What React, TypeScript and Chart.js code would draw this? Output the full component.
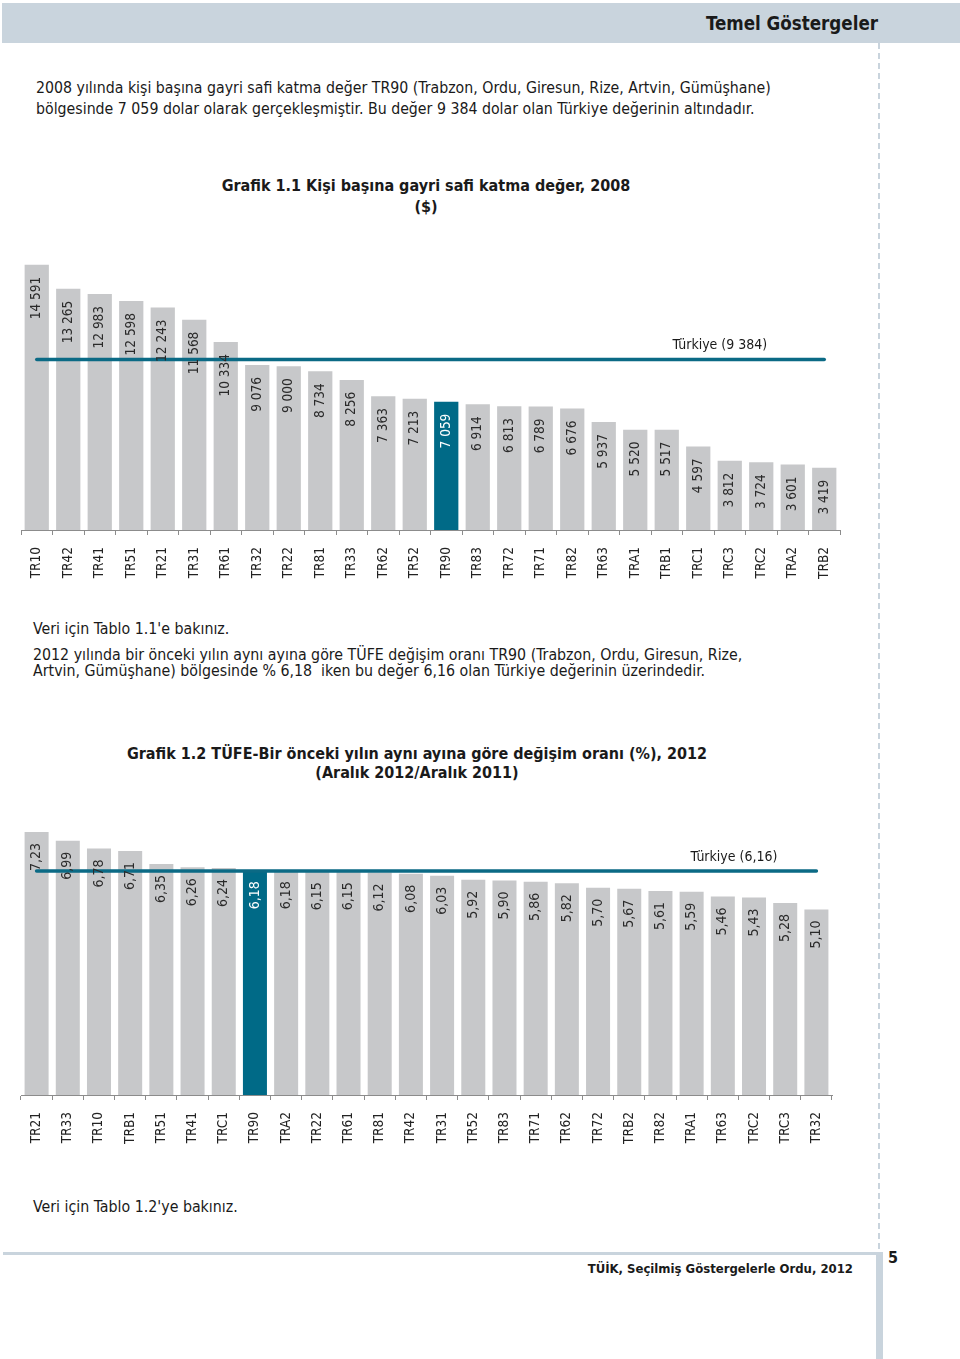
import React, { useEffect, useRef } from "react";
import { Chart, registerables } from "chart.js";
Chart.register(...registerables);

// ---------- DATA ----------
const regions1 = ["TR10","TR42","TR41","TR51","TR21","TR31","TR61","TR32","TR22","TR81","TR33","TR62","TR52","TR90","TR83","TR72","TR71","TR82","TR63","TRA1","TRB1","TRC1","TRC3","TRC2","TRA2","TRB2"];
const values1 = [14591,13265,12983,12598,12243,11568,10334,9076,9000,8734,8256,7363,7213,7059,6914,6813,6789,6676,5937,5520,5517,4597,3812,3724,3601,3419];
const turkiye1 = 9384;
const turkiyeLabel1 = "Türkiye (9 384)";

const regions2 = ["TR21","TR33","TR10","TRB1","TR51","TR41","TRC1","TR90","TRA2","TR22","TR61","TR81","TR42","TR31","TR52","TR83","TR71","TR62","TR72","TRB2","TR82","TRA1","TR63","TRC2","TRC3","TR32"];
const values2 = [7.23,6.99,6.78,6.71,6.35,6.26,6.24,6.18,6.18,6.15,6.15,6.12,6.08,6.03,5.92,5.90,5.86,5.82,5.70,5.67,5.61,5.59,5.46,5.43,5.28,5.10];
const turkiye2 = 6.16;
const turkiyeLabel2 = "Türkiye (6,16)";

const highlight = "TR90";

// ---------- STYLE ----------
const GRAY = "#c7c8ca";
const TEAL = "#006a87";
const LINE = "#0b6a85";
const AXIS = "#8c8c8c";
const FONT = "'DejaVu Sans Condensed', 'DejaVu Sans', sans-serif";
const PALE = "#c9d4dd";

const fmtThousands = (n: number) => String(n).replace(/\B(?=(\d{3})+(?!\d))/g, " ");
const fmtComma = (n: number) => n.toFixed(2).replace(".", ",");

const refLinePlugin = {
  id: "refLine",
  afterDatasetsDraw(chart: any, _args: any, opts: any) {
    const meta = chart.getDatasetMeta(0);
    const n = meta.data.length;
    const y = chart.scales.y.getPixelForValue(opts.value);
    const x0 = meta.data[0].x;
    const x1 = meta.data[n - 1].x;
    const ctx = chart.ctx;
    ctx.save();
    ctx.strokeStyle = LINE;
    ctx.lineWidth = 3.5;
    ctx.lineCap = "round";
    ctx.beginPath();
    ctx.moveTo(x0, y);
    ctx.lineTo(x1, y);
    ctx.stroke();
    ctx.fillStyle = "#1a1a1a";
    ctx.font = `14px ${FONT}`;
    ctx.textAlign = "right";
    ctx.textBaseline = "middle";
    ctx.fillText(opts.label, x1 - opts.labelRight, y - opts.labelAbove);
    ctx.restore();
  },
};

const valueLabelPlugin = {
  id: "valueLabels",
  afterDatasetsDraw(chart: any, _args: any, opts: any) {
    const meta = chart.getDatasetMeta(0);
    const ctx = chart.ctx;
    const labels = chart.data.labels;
    const data = chart.data.datasets[0].data;
    ctx.save();
    ctx.font = `${opts.size}px ${FONT}`;
    meta.data.forEach((bar: any, i: number) => {
      ctx.save();
      ctx.translate(bar.x, bar.y + opts.offset);
      ctx.rotate(-Math.PI / 2);
      ctx.textAlign = "right";
      ctx.textBaseline = "middle";
      ctx.fillStyle = labels[i] === highlight ? "#ffffff" : "#2a2a2a";
      ctx.fillText(opts.format(data[i]), 0, 0);
      ctx.restore();
    });
    ctx.restore();
  },
};

function makeConfig(labels: string[], values: number[], yMax: number, padRight: number, axisH: number, ref: any, fmt: (n: number) => string, labelSize: number, labelOffset: number) {
  return {
    type: "bar",
    data: {
      labels,
      datasets: [
        {
          data: values,
          backgroundColor: labels.map((r) => (r === highlight ? TEAL : GRAY)),
          barPercentage: 0.77,
          categoryPercentage: 1,
        },
      ],
    },
    options: {
      responsive: false,
      animation: false,
      layout: { padding: { left: 21, right: padRight, top: 0, bottom: 0 } },
      plugins: {
        legend: { display: false },
        tooltip: { enabled: false },
        refLine: ref,
        valueLabels: { format: fmt, size: labelSize, offset: labelOffset },
      },
      scales: {
        x: {
          grid: { display: true, drawOnChartArea: false, drawTicks: true, tickLength: 5, color: AXIS, offset: true },
          border: { display: true, color: AXIS, width: 1 },
          ticks: { minRotation: 90, maxRotation: 90, autoSkip: false, padding: 12, color: "#222", font: { family: FONT, size: 13.5 } },
          afterFit: (s: any) => { s.height = axisH; },
        },
        y: { display: false, min: 0, max: yMax },
      },
    },
    plugins: [refLinePlugin, valueLabelPlugin],
  };
}

function BarChart(props: { top: number; height: number; config: any }) {
  const ref = useRef<HTMLCanvasElement>(null);
  useEffect(() => {
    const chart = new Chart(ref.current as HTMLCanvasElement, props.config);
    return () => chart.destroy();
  }, []);
  return (
    <canvas
      ref={ref}
      width={860}
      height={props.height}
      style={{ position: "absolute", left: 0, top: props.top, width: 860, height: props.height }}
    />
  );
}

const abs = (s: any) => ({ position: "absolute", fontFamily: FONT, color: "#1a1a1a", whiteSpace: "nowrap", ...s });

export default function App() {
  const cfg1 = makeConfig(regions1, values1, 16500, 20, 60,
    { value: turkiye1, label: turkiyeLabel1, labelRight: 57, labelAbove: 14 }, fmtThousands, 13.5, 12);
  const cfg2 = makeConfig(regions2, values2, 8.11, 28, 65,
    { value: turkiye2, label: turkiyeLabel2, labelRight: 39, labelAbove: 14 }, fmtComma, 14, 11);
  return (
    <div style={{ position: "absolute", left: 0, top: 0, width: 960, height: 1359, overflow: "hidden", background: "#fff" }}>
      <div style={{ position: "absolute", left: 2, top: 3, width: 958, height: 40, background: PALE }} />
      <div style={abs({ right: 82, top: 11, fontSize: 18.6, fontWeight: "bold", lineHeight: "26px" })}>Temel Göstergeler</div>
      <div style={{ position: "absolute", left: 878, top: 43, width: 2, height: 1209, background: `repeating-linear-gradient(to bottom, ${PALE} 0px, ${PALE} 6px, transparent 6px, transparent 10px)` }} />

      <div style={abs({ left: 36, top: 77, fontSize: 15.75, lineHeight: "21px" })}>
        2008 yılında kişi başına gayri safi katma değer TR90 (Trabzon, Ordu, Giresun, Rize, Artvin, Gümüşhane)<br />
        bölgesinde 7 059 dolar olarak gerçekleşmiştir. Bu değer 9 384 dolar olan Türkiye değerinin altındadır.
      </div>

      <div style={abs({ left: 126, width: 600, top: 175, fontSize: 16, lineHeight: "21px", fontWeight: "bold", textAlign: "center" })}>
        Grafik 1.1 Kişi başına gayri safi katma değer, 2008<br />($)
      </div>

      <BarChart top={230} height={360} config={cfg1} />

      <div style={abs({ left: 33, top: 619, fontSize: 15.8, lineHeight: "20px" })}>Veri için Tablo 1.1'e bakınız.</div>

      <div style={abs({ left: 33, top: 647, fontSize: 15.8, lineHeight: "16px" })}>
        2012 yılında bir önceki yılın aynı ayına göre TÜFE değişim oranı TR90 (Trabzon, Ordu, Giresun, Rize,<br />
        Artvin, Gümüşhane) bölgesinde % 6,18&nbsp; iken bu değer 6,16 olan Türkiye değerinin üzerindedir.
      </div>

      <div style={abs({ left: 67, width: 700, top: 744, fontSize: 16, lineHeight: "19px", fontWeight: "bold", textAlign: "center" })}>
        Grafik 1.2 TÜFE-Bir önceki yılın aynı ayına göre değişim oranı (%), 2012<br />(Aralık 2012/Aralık 2011)
      </div>

      <BarChart top={800} height={360} config={cfg2} />

      <div style={abs({ left: 33, top: 1197, fontSize: 15.8, lineHeight: "20px" })}>Veri için Tablo 1.2'ye bakınız.</div>

      <div style={{ position: "absolute", left: 3, top: 1252, width: 876, height: 3, background: PALE }} />
      <div style={{ position: "absolute", left: 876, top: 1252, width: 7, height: 107, background: PALE }} />
      <div style={abs({ left: 888, top: 1249, fontSize: 16, fontWeight: "bold", lineHeight: "18px" })}>5</div>
      <div style={abs({ right: 107, top: 1260, fontSize: 13, fontWeight: "bold", lineHeight: "18px" })}>TÜİK, Seçilmiş Göstergelerle Ordu, 2012</div>
    </div>
  );
}
